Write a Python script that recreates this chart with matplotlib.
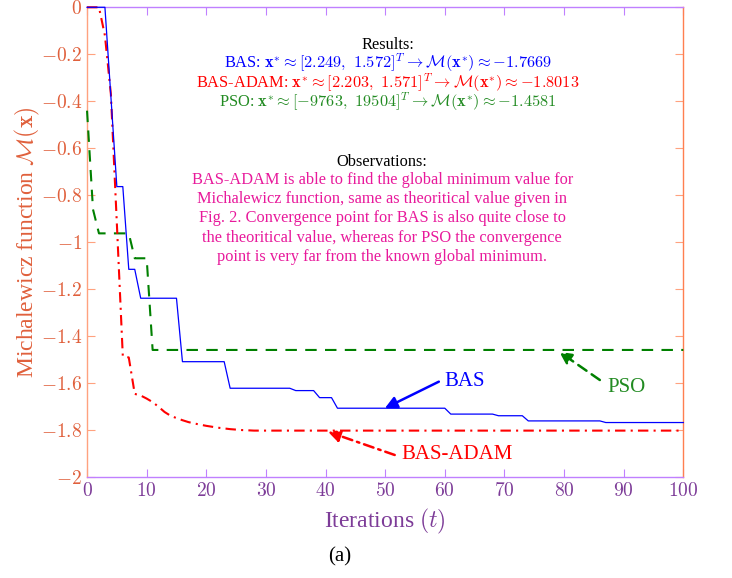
import numpy as np
import matplotlib.pyplot as plt

plt.rcParams['font.family'] = ['Liberation Serif', 'DejaVu Serif']
plt.rcParams['mathtext.fontset'] = 'cm'

# values, one per iteration t = 0..100
iterations = np.arange(0, 101)
bas = ([0.0] * 4 + [-0.38] + [-0.763] * 2 + [-1.115] * 2 + [-1.238] * 7
       + [-1.508] * 8 + [-1.621] * 11 + [-1.631] * 4 + [-1.661] * 3
       + [-1.706] * 19 + [-1.731] * 8 + [-1.738] * 5 + [-1.760] * 13
       + [-1.7669] * 14)
bas_adam = ([0.0] * 3
            + [-0.12, -0.37, -0.92, -1.485, -1.49, -1.645, -1.652, -1.665,
               -1.68, -1.70, -1.722, -1.738, -1.748, -1.757, -1.765, -1.771,
               -1.776, -1.781, -1.785, -1.789, -1.792, -1.795, -1.797,
               -1.799, -1.800]
            + [-1.8013] * 73)
pso = [-0.44, -0.86] + [-0.962] * 6 + [-1.068] * 3 + [-1.4581] * 90

xticks = [0, 10, 20, 30, 40, 50, 60, 70, 80, 90, 100]
xtick_labels = ['$%d$' % v for v in xticks]
yticks = [0, -0.2, -0.4, -0.6, -0.8, -1, -1.2, -1.4, -1.6, -1.8, -2]
ytick_labels = ['$0$', '$-0.2$', '$-0.4$', '$-0.6$', '$-0.8$', '$-1$',
                '$-1.2$', '$-1.4$', '$-1.6$', '$-1.8$', '$-2$']

results_title = 'Results:'
results_lines = [
    (r'BAS: $\mathbf{x}^{*}\approx[2.249,\ 1.572]^{T}\rightarrow\mathcal{M}(\mathbf{x}^{*})\approx{-}1.7669$', '#0000FF'),
    (r'BAS-ADAM: $\mathbf{x}^{*}\approx[2.203,\ 1.571]^{T}\rightarrow\mathcal{M}(\mathbf{x}^{*})\approx{-}1.8013$', '#FF0000'),
    (r'PSO: $\mathbf{x}^{*}\approx[{-}9763,\ 19504]^{T}\rightarrow\mathcal{M}(\mathbf{x}^{*})\approx{-}1.4581$', '#228B22'),
]
obs_title = 'Observations:'
obs_text = ('BAS-ADAM is able to find the global minimum value for\n'
            'Michalewicz function, same as theoritical value given in\n'
            'Fig. 2. Convergence point for BAS is also quite close to\n'
            'the theoritical value, whereas for PSO the convergence\n'
            'point is very far from the known global minimum.')

fig = plt.figure(figsize=(7.32, 5.78), dpi=100)
ax = fig.add_axes([0.1189, 0.1742, 0.8146, 0.8132])

ax.plot(iterations, pso, color='#008000', lw=1.5, dashes=(5.5, 4),
        zorder=3, clip_on=False)
ax.plot(iterations, bas_adam, color='#FF0000', lw=1.5, dashes=(5, 2.5, 1, 2.5),
        zorder=4, clip_on=False)
ax.plot(iterations, bas, color='#0000FF', lw=0.9, zorder=5, clip_on=False)

ax.set_xlim(0, 100)
ax.set_ylim(-2, 0)
ax.set_xticks(xticks)
ax.set_xticklabels(xtick_labels)
ax.set_yticks(yticks)
ax.set_yticklabels(ytick_labels)

ax.spines['left'].set_color('#FFA27F')
ax.spines['right'].set_color('#FF7F50')
ax.spines['top'].set_color('#C080FF')
ax.spines['bottom'].set_color('#C080FF')
for s in ax.spines.values():
    s.set_linewidth(1.0)

ax.tick_params(axis='y', direction='in', length=6, color='#FFA27F',
               labelcolor='#E0603C', left=True, right=True, labelsize=14)
ax.tick_params(axis='x', direction='in', length=6, color='#C080FF',
               labelcolor='#7D3C98', top=True, bottom=True, labelsize=14)

ax.set_xlabel(r'Iterations $(t)$', color='#7D3C98', fontsize=17, labelpad=5)
ax.set_ylabel(r'Michalewicz function $\mathcal{M}(\mathbf{x})$', color='#E0603C',
              fontsize=17, labelpad=-1)

# text block
fs = 11.8
ax.text(50.5, -0.16, results_title, ha='center', va='center', fontsize=fs)
for i, (line, c) in enumerate(results_lines):
    ax.text(50.5, -0.237 - 0.083 * i, line, ha='center', va='center',
            fontsize=fs, color=c)
ax.text(49.5, -0.657, obs_title, ha='center', va='center', fontsize=fs)
ax.text(49.5, -0.898, obs_text, ha='center', va='center', fontsize=fs,
        color='#E8199B', linespacing=1.27)

# labelled arrows
ax.annotate('', xy=(49.95, -1.706), xytext=(59.0, -1.593),
            arrowprops=dict(arrowstyle='-|>', color='#0000FF', lw=1.8,
                            mutation_scale=18, shrinkA=0, shrinkB=0))
ax.text(60.0, -1.593, 'BAS', color='#0000FF', fontsize=15, ha='left', va='center')

ax.annotate('', xy=(79.2, -1.466), xytext=(86.0, -1.586),
            arrowprops=dict(arrowstyle='-|>', color='#008000', lw=1.8,
                            linestyle=(0, (4, 2.5)), mutation_scale=18,
                            shrinkA=0, shrinkB=0))
ax.text(87.2, -1.617, 'PSO', color='#228B22', fontsize=15, ha='left', va='center')

ax.annotate('', xy=(40.4, -1.806), xytext=(51.6, -1.905),
            arrowprops=dict(arrowstyle='-|>', color='#FF0000', lw=1.8,
                            linestyle=(0, (4, 2, 1, 2)), mutation_scale=18,
                            shrinkA=0, shrinkB=0))
ax.text(52.7, -1.901, 'BAS-ADAM', color='#FF0000', fontsize=15, ha='left', va='center')

fig.text(340 / 732, 1 - 557 / 578, '(a)', ha='center', va='center', fontsize=15)

fig.savefig('out.png', dpi=100)
